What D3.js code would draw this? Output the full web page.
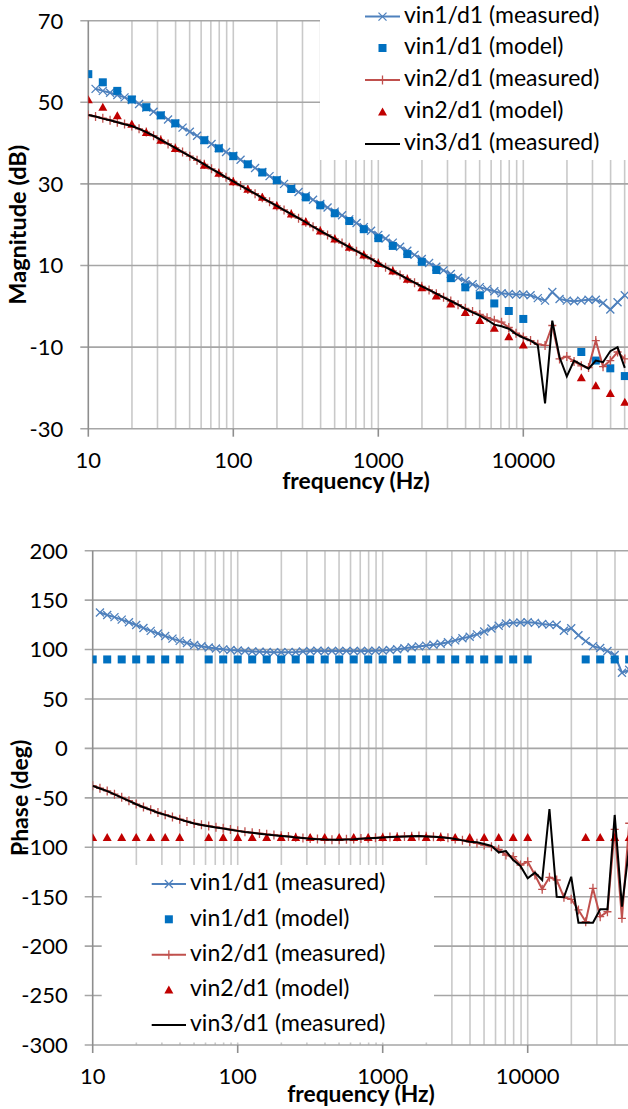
<!DOCTYPE html>
<html><head><meta charset="utf-8">
<script src="https://cdn.jsdelivr.net/npm/d3@7"></script>
<style>body{margin:0;background:#fff}svg{display:block}text{font-family:Lato,"Open Sans",sans-serif;fill:#000}</style>
</head><body><svg id="c" width="628" height="1109"></svg>
<script>
// ---------------- DATA ----------------
const freq = [10,11.22,12.59,14.13,15.85,17.78,19.95,22.39,25.12,28.18,31.62,35.48,39.81,44.67,50.12,56.23,63.10,70.79,79.43,89.13,
 100,112.2,125.9,141.3,158.5,177.8,199.5,223.9,251.2,281.8,316.2,354.8,398.1,446.7,501.2,562.3,631.0,707.9,794.3,891.3,
 1000,1122,1259,1413,1585,1778,1995,2239,2512,2818,3162,3548,3981,4467,5012,5623,6310,7079,7943,8913,
 10000,11220,12589,14125,15849,17783,19953,22387,25119,28184,31623,35481,39811,44668,50119];
const modelFreq = [10,12.59,15.85,19.95,25.12,31.62,39.81,63.10,79.43,100,125.9,158.5,199.5,251.2,316.2,398.1,501.2,631.0,794.3,
 1000,1259,1585,1995,2512,3162,3981,5012,6310,7943,10000,25119,31623,39811,50119];

const vin1MagMeas = [null,53.3,52.8,52.35,51.8,51.2,50.55,49.6,48.7,47.7,46.8,45.8,44.8,43.8,42.8,41.8,40.8,39.8,38.8,37.8,
 36.9,35.9,34.9,33.9,32.9,31.9,30.95,30.0,29.0,28.0,27.05,26.1,25.1,24.2,23.2,22.3,21.3,20.4,19.4,18.5,
 17.5,16.6,15.6,14.6,13.6,12.6,11.6,10.6,9.7,8.8,7.9,7.0,6.2,5.4,4.7,4.2,3.7,3.2,3.0,2.9,
 2.9,2.7,2.0,1.4,3.5,1.8,1.4,1.25,1.4,1.6,1.6,0.8,-0.8,1.0,2.7];
const vin1MagModel = [56.9,54.9,52.8,50.7,48.8,46.8,44.85,40.7,38.7,36.8,34.8,32.8,30.9,28.75,26.7,24.75,22.8,20.9,18.9,
 16.7,14.8,12.8,10.9,8.9,6.9,4.65,2.7,0.7,-1.15,-3.1,-11.2,-13.3,-15.2,-17.1];
const vin2MagMeas = [46.9,46.5,46.1,45.6,45.1,44.7,44.2,43.5,42.7,41.8,40.8,39.8,38.8,37.8,36.8,35.8,34.8,33.7,32.7,31.6,
 30.6,29.6,28.6,27.6,26.6,25.6,24.6,23.6,22.6,21.6,20.6,19.5,18.5,17.5,16.5,15.5,14.5,13.5,12.6,11.6,
 10.6,9.6,8.7,7.7,6.7,5.8,4.9,4.0,3.1,2.2,1.3,0.4,-0.5,-1.3,-2.0,-2.8,-3.4,-3.9,-5.2,-6.6,
 -7.5,-8.4,-9.3,-9.6,-4.7,-12.9,-12.3,-13.5,-14.6,-15.0,-8.4,-14.8,-13.3,-11.2,-12.9];
const vin2MagModel = [50.6,48.8,46.7,44.6,42.6,40.7,38.7,34.6,32.6,30.5,28.7,26.7,24.65,22.6,20.7,18.45,16.5,14.5,12.6,
 10.5,8.65,6.6,4.55,2.5,0.55,-1.5,-3.5,-5.4,-7.45,-9.5,-17.5,-19.5,-21.4,-23.5];
const vin3MagMeas = [46.9,46.5,46.0,45.6,45.1,44.6,44.2,43.5,42.7,41.8,40.8,39.8,38.8,37.8,36.8,35.8,34.8,33.7,32.7,31.6,
 30.6,29.6,28.6,27.6,26.6,25.6,24.6,23.6,22.6,21.6,20.6,19.5,18.5,17.5,16.5,15.5,14.5,13.5,12.6,11.6,
 10.6,9.6,8.7,7.7,6.7,5.8,4.9,4.0,3.1,2.2,1.3,0.4,-0.6,-1.5,-2.3,-3.3,-4.5,-4.9,-5.5,-6.8,
 -7.7,-8.4,-9.5,-23.8,-3.5,-12.5,-17.2,-13.3,-14.3,-15.3,-13.3,-13.7,-11.0,-10.0,-15.1];

const vin1PhMeas = [null,137.5,135.0,132.8,130.3,127.6,124.8,121.8,118.9,116.3,113.7,111.1,108.8,106.6,104.6,103.3,102.1,101.1,100.2,99.5,
 99.0,98.5,98.1,97.8,97.5,97.3,97.3,97.4,97.6,98.0,98.5,98.8,98.6,98.5,98.5,98.5,98.5,98.5,98.6,98.8,
 99.0,99.6,100.3,101.3,102.3,103.2,104.0,104.8,105.8,107.4,109.3,111.4,113.0,115.4,118.3,121.3,124.0,126.3,127.0,127.4,
 127.6,127.0,125.8,125.2,124.8,119.1,121.5,114.5,108.5,103.5,101.5,98.5,94.5,76.6,79.5];
const vin1PhModel = [90,90,90,90,90,90,90,90,90,90,90,90,90,90,90,90,90,90,90,90,90,90,90,90,90,90,90,90,90,90,90,90,90,90];
const vin2PhMeas = [-37.7,-40.3,-43.0,-46.3,-49.5,-52.9,-56.3,-59.3,-62.0,-64.8,-67.0,-69.3,-71.6,-73.8,-75.9,-77.2,-78.5,-79.7,-80.8,-82.0,
 -83.2,-84.3,-85.2,-86.0,-86.9,-87.6,-88.3,-89.0,-89.8,-90.5,-91.1,-91.6,-92.0,-92.3,-92.3,-92.0,-91.7,-91.2,-90.8,-90.4,
 -89.9,-89.6,-89.3,-89.0,-88.8,-88.6,-88.9,-89.3,-89.7,-90.3,-91.5,-92.8,-94.4,-96.0,-97.7,-99.4,-102.1,-107.8,-109.5,-117.9,
 -114.6,-128.0,-142.5,-130.4,-133.1,-150.6,-152.6,-163.4,-175.3,-141.5,-170.2,-165.2,-81.8,-171.9,-75.7];
const vin2PhModel = [-90,-90,-90,-90,-90,-90,-90,-90,-90,-90,-90,-90,-90,-90,-90,-90,-90,-90,-90,-90,-90,-90,-90,-90,-90,-90,-90,-90,-90,-90,-90,-90,-90,-90];
const vin3PhMeas = [-37.9,-40.5,-43.2,-46.5,-49.7,-53.1,-56.5,-59.5,-62.2,-65.0,-67.2,-69.5,-71.8,-74.0,-76.0,-77.4,-78.7,-79.9,-81.0,-82.2,
 -83.4,-84.5,-85.4,-86.2,-87.1,-87.8,-88.5,-89.2,-90.0,-90.7,-91.3,-91.8,-92.2,-92.4,-92.4,-92.1,-91.8,-91.3,-90.9,-90.5,
 -90.0,-89.7,-89.4,-89.1,-88.9,-88.7,-89.0,-89.4,-89.9,-90.5,-91.7,-93.0,-94.4,-95.0,-96.7,-98.7,-105.1,-103.8,-112.9,-118.9,
 -131.4,-125.7,-133.1,-61.3,-150.0,-150.6,-129.8,-176.3,-176.3,-176.3,-162.7,-162.7,-67.3,-160.1,-100.0];

const magTicks = [-30,-10,10,30,50,70];
const phaseTicks = [-300,-250,-200,-150,-100,-50,0,50,100,150,200];
const freqTickLabels = [10,100,1000,10000];
const seriesNames = ["vin1/d1 (measured)","vin1/d1 (model)","vin2/d1 (measured)","vin2/d1 (model)","vin3/d1 (measured)"];

// ---------------- STYLE ----------------
const C = {blueLine:"#4F81BD", blueSq:"#0070C0", redLine:"#C0504D", redTri:"#C00000", black:"#000",
  vgrid:"#c9c9c9", hgrid:"#a6a6a6", axis:"#8e8e8e"};
const svg = d3.select("#c");

function chart(cfg){
  const {x, y, yTicks, top, bottom, left, id} = cfg;
  const g = svg.append("g");
  const W = 628;
  const vt = x.ticks().filter(v => v > 10);
  g.selectAll(null).data(vt).join("line")
    .attr("x1", d=>x(d)).attr("x2", d=>x(d)).attr("y1", top).attr("y2", bottom)
    .attr("stroke", C.vgrid).attr("stroke-width", 1.6);
  g.selectAll(null).data(yTicks).join("line")
    .attr("x1", left-8).attr("x2", W+60).attr("y1", d=>y(d)).attr("y2", d=>y(d))
    .attr("stroke", C.hgrid).attr("stroke-width", 1.6);
  g.append("line").attr("x1", left).attr("x2", left).attr("y1", top).attr("y2", bottom)
    .attr("stroke", C.axis).attr("stroke-width", 1.6);
  g.selectAll(null).data(freqTickLabels.concat([100000])).join("line")
    .attr("x1", d=>x(d)).attr("x2", d=>x(d)).attr("y1", bottom).attr("y2", bottom+8)
    .attr("stroke", C.axis).attr("stroke-width", 1.6);
  g.selectAll(null).data(yTicks).join("text")
    .attr("x", left-25).attr("y", d=>y(d)).attr("dy","0.36em")
    .attr("text-anchor","end").style("font-size","22px").text(d=>d);
  g.selectAll(null).data(freqTickLabels).join("text")
    .attr("x", d=>x(d)).attr("y", bottom+31).attr("dy","0.36em")
    .attr("text-anchor","middle").style("font-size","22px").text(d=>d);
  svg.append("clipPath").attr("id", id).append("rect")
    .attr("x", left).attr("y", top-6).attr("width", W).attr("height", bottom-top+12);
  return svg.append("g").attr("clip-path", `url(#${id})`);
}

function drawSeries(d, x, y, meas1, model1, meas2, model2, meas3){
  const line = vals => d3.line().defined((v,i)=>vals[i]!=null).x((v,i)=>x(freq[i])).y((v,i)=>y(vals[i]))(vals);
  const pts = vals => vals.map((v,i)=>({f:freq[i], v})).filter(p=>p.v!=null);
  const mpts = vals => vals.map((v,i)=>({f:modelFreq[i], v}));
  d.append("path").attr("d", line(meas1)).attr("fill","none").attr("stroke",C.blueLine).attr("stroke-width",2);
  d.selectAll(null).data(pts(meas1)).join("path")
    .attr("transform", p=>`translate(${x(p.f)},${y(p.v)})`)
    .attr("d","M-4,-4L4,4M-4,4L4,-4").attr("stroke",C.blueLine).attr("stroke-width",1.3).attr("fill","none");
  d.selectAll(null).data(mpts(model1)).join("rect")
    .attr("x", p=>x(p.f)-4).attr("y", p=>y(p.v)-4).attr("width",8).attr("height",8).attr("fill",C.blueSq);
  d.append("path").attr("d", line(meas2)).attr("fill","none").attr("stroke",C.redLine).attr("stroke-width",2);
  d.selectAll(null).data(pts(meas2)).join("path")
    .attr("transform", p=>`translate(${x(p.f)},${y(p.v)})`)
    .attr("d","M-4,0H4M0,-4.5V4.5").attr("stroke",C.redLine).attr("stroke-width",1.3).attr("fill","none");
  d.selectAll(null).data(mpts(model2)).join("path")
    .attr("transform", p=>`translate(${x(p.f)},${y(p.v)})`)
    .attr("d","M0,-4.5L4.5,3.5L-4.5,3.5Z").attr("fill",C.redTri);
  d.append("path").attr("d", line(meas3)).attr("fill","none").attr("stroke",C.black).attr("stroke-width",2);
}

function legend(cfg){
  const {bx, by, bw, bh, sx0, sx1, tx, rows} = cfg;
  const g = svg.append("g");
  g.append("rect").attr("x",bx).attr("y",by).attr("width",bw).attr("height",bh).attr("fill","#fff");
  const sc = (sx0+sx1)/2;
  seriesNames.forEach((name,i)=>{
    const yy = rows[i];
    if(i===0||i===2||i===4){
      const col = i===0?C.blueLine:(i===2?C.redLine:C.black);
      g.append("line").attr("x1",sx0).attr("x2",sx1).attr("y1",yy).attr("y2",yy).attr("stroke",col).attr("stroke-width",2);
    }
    if(i===0) g.append("path").attr("transform",`translate(${sc},${yy})`).attr("d","M-4,-4L4,4M-4,4L4,-4").attr("stroke",C.blueLine).attr("stroke-width",1.3);
    if(i===2) g.append("path").attr("transform",`translate(${sc},${yy})`).attr("d","M-4,0H4M0,-4.5V4.5").attr("stroke",C.redLine).attr("stroke-width",1.3);
    if(i===1) g.append("rect").attr("x",sc-4).attr("y",yy-4).attr("width",8).attr("height",8).attr("fill",C.blueSq);
    if(i===3) g.append("path").attr("transform",`translate(${sc},${yy})`).attr("d","M0,-4.5L4.5,3.5L-4.5,3.5Z").attr("fill",C.redTri);
    g.append("text").attr("x",tx).attr("y",yy).attr("dy","0.27em").style("font-size","23px").text(name);
  });
}

// ---------------- TOP: magnitude ----------------
const xTop = d3.scaleLog().domain([10,100000]).range([88.3, 88.3+145*4]);
const yTop = d3.scaleLinear().domain([-30,70]).range([428.7,20.7]);
const dTop = chart({x:xTop, y:yTop, yTicks:magTicks, top:20.7, bottom:428.7, left:88.3, id:"clipTop"});
drawSeries(dTop, xTop, yTop, vin1MagMeas, vin1MagModel, vin2MagMeas, vin2MagModel, vin3MagMeas);
legend({bx:320, by:0, bw:320, bh:160, sx0:365, sx1:400, tx:404, rows:[16.6,48,80,112,144]});
svg.append("text").attr("x",356).attr("y",489).attr("text-anchor","middle")
  .style("font-size","22.8px").style("font-weight","bold").text("frequency (Hz)");
svg.append("text").attr("transform","translate(26,224.7) rotate(-90)").attr("text-anchor","middle")
  .style("font-size","23.5px").style("font-weight","bold").text("Magnitude (dB)");

// ---------------- BOTTOM: phase ----------------
const xBot = d3.scaleLog().domain([10,100000]).range([92.7, 92.7+145*4]);
const yBot = d3.scaleLinear().domain([-300,200]).range([1045,550.7]);
const dBot = chart({x:xBot, y:yBot, yTicks:phaseTicks, top:550.7, bottom:1045, left:92.7, id:"clipBot"});
drawSeries(dBot, xBot, yBot, vin1PhMeas, vin1PhModel, vin2PhMeas, vin2PhModel, vin3PhMeas);
legend({bx:101.7, by:865, bw:332.3, bh:177.5, sx0:151.7, sx1:186, tx:190, rows:[884,919.3,954.7,990,1025]});
svg.append("text").attr("x",361).attr("y",1102).attr("text-anchor","middle")
  .style("font-size","22.8px").style("font-weight","bold").text("frequency (Hz)");
svg.append("text").attr("transform","translate(27.7,797.9) rotate(-90)").attr("text-anchor","middle")
  .style("font-size","23px").style("font-weight","bold").text("Phase (deg)");
</script></body></html>
